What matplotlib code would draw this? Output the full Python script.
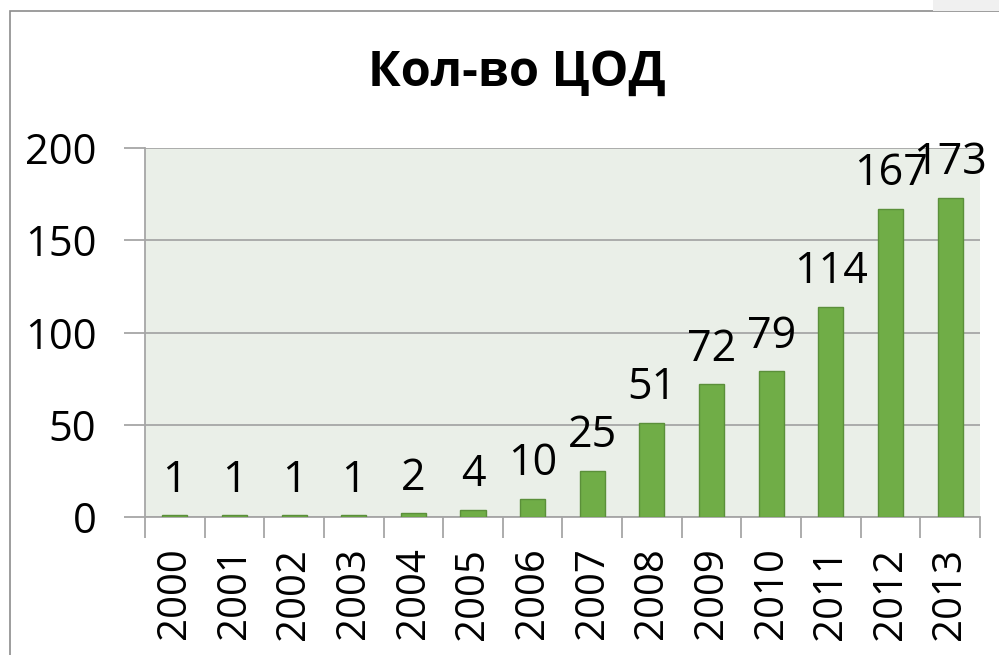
import numpy as np
import matplotlib.pyplot as plt
import matplotlib.patches as mpatches

# data
years = ['2000', '2001', '2002', '2003', '2004', '2005', '2006',
         '2007', '2008', '2009', '2010', '2011', '2012', '2013']
counts = [1, 1, 1, 1, 2, 4, 10, 25, 51, 72, 79, 114, 167, 173]
yticks = [0, 50, 100, 150, 200]

plt.rcParams['font.family'] = ['Open Sans', 'DejaVu Sans']

fig = plt.figure(figsize=(9.99, 6.55), dpi=100)
ax = fig.add_axes([0.1451, 0.2107, 0.981 - 0.1451, 0.774 - 0.2107])

# outer chart frame (left and top edges visible)
fig.add_artist(mpatches.Rectangle((10 / 999, -0.1), 1.2, 1 - 11 / 655 + 0.1,
                                  transform=fig.transFigure, fill=False,
                                  edgecolor='#8c8c8c', linewidth=1.2))
fig.add_artist(mpatches.Rectangle((933 / 999, 1 - 11 / 655), 0.1, 0.1,
                                  transform=fig.transFigure,
                                  facecolor='#f0f0f0', edgecolor='none'))

x = np.arange(len(years))
ax.set_facecolor('#eaefe8')
ax.bar(x, counts, width=0.42, color='#70ad47', edgecolor='#5b8f3a',
       linewidth=1.0, zorder=3)

for xi, v in zip(x, counts):
    ax.annotate(str(v), (xi, v), xytext=(0, 17), textcoords='offset points',
                ha='center', va='baseline', fontsize=31, zorder=4)

ax.set_xlim(-0.5, len(years) - 0.5)
ax.set_ylim(0, 200)
ax.set_yticks(yticks)
ax.set_xticks(x)
ax.set_xticklabels(years, rotation=90)
ax.set_xticks(np.arange(len(years) + 1) - 0.5, minor=True)

ax.grid(axis='y', color='#a6a6a6', linewidth=1.3, zorder=1)
ax.tick_params(axis='x', which='major', length=0, pad=22, labelsize=29)
ax.tick_params(axis='x', which='minor', length=15, color='#a6a6a6', width=1.3)
ax.tick_params(axis='y', length=15, color='#a6a6a6', width=1.3, pad=20,
               labelsize=30)

for s in ['top', 'right']:
    ax.spines[s].set_visible(False)
for s in ['left', 'bottom']:
    ax.spines[s].set_color('#a6a6a6')
    ax.spines[s].set_linewidth(1.3)

fig.text(517 / 999, 1 - 73 / 655, 'Кол-во ЦОД', ha='center', va='center',
         fontsize=35, fontweight='bold')

fig.savefig('out.png', dpi=100)
